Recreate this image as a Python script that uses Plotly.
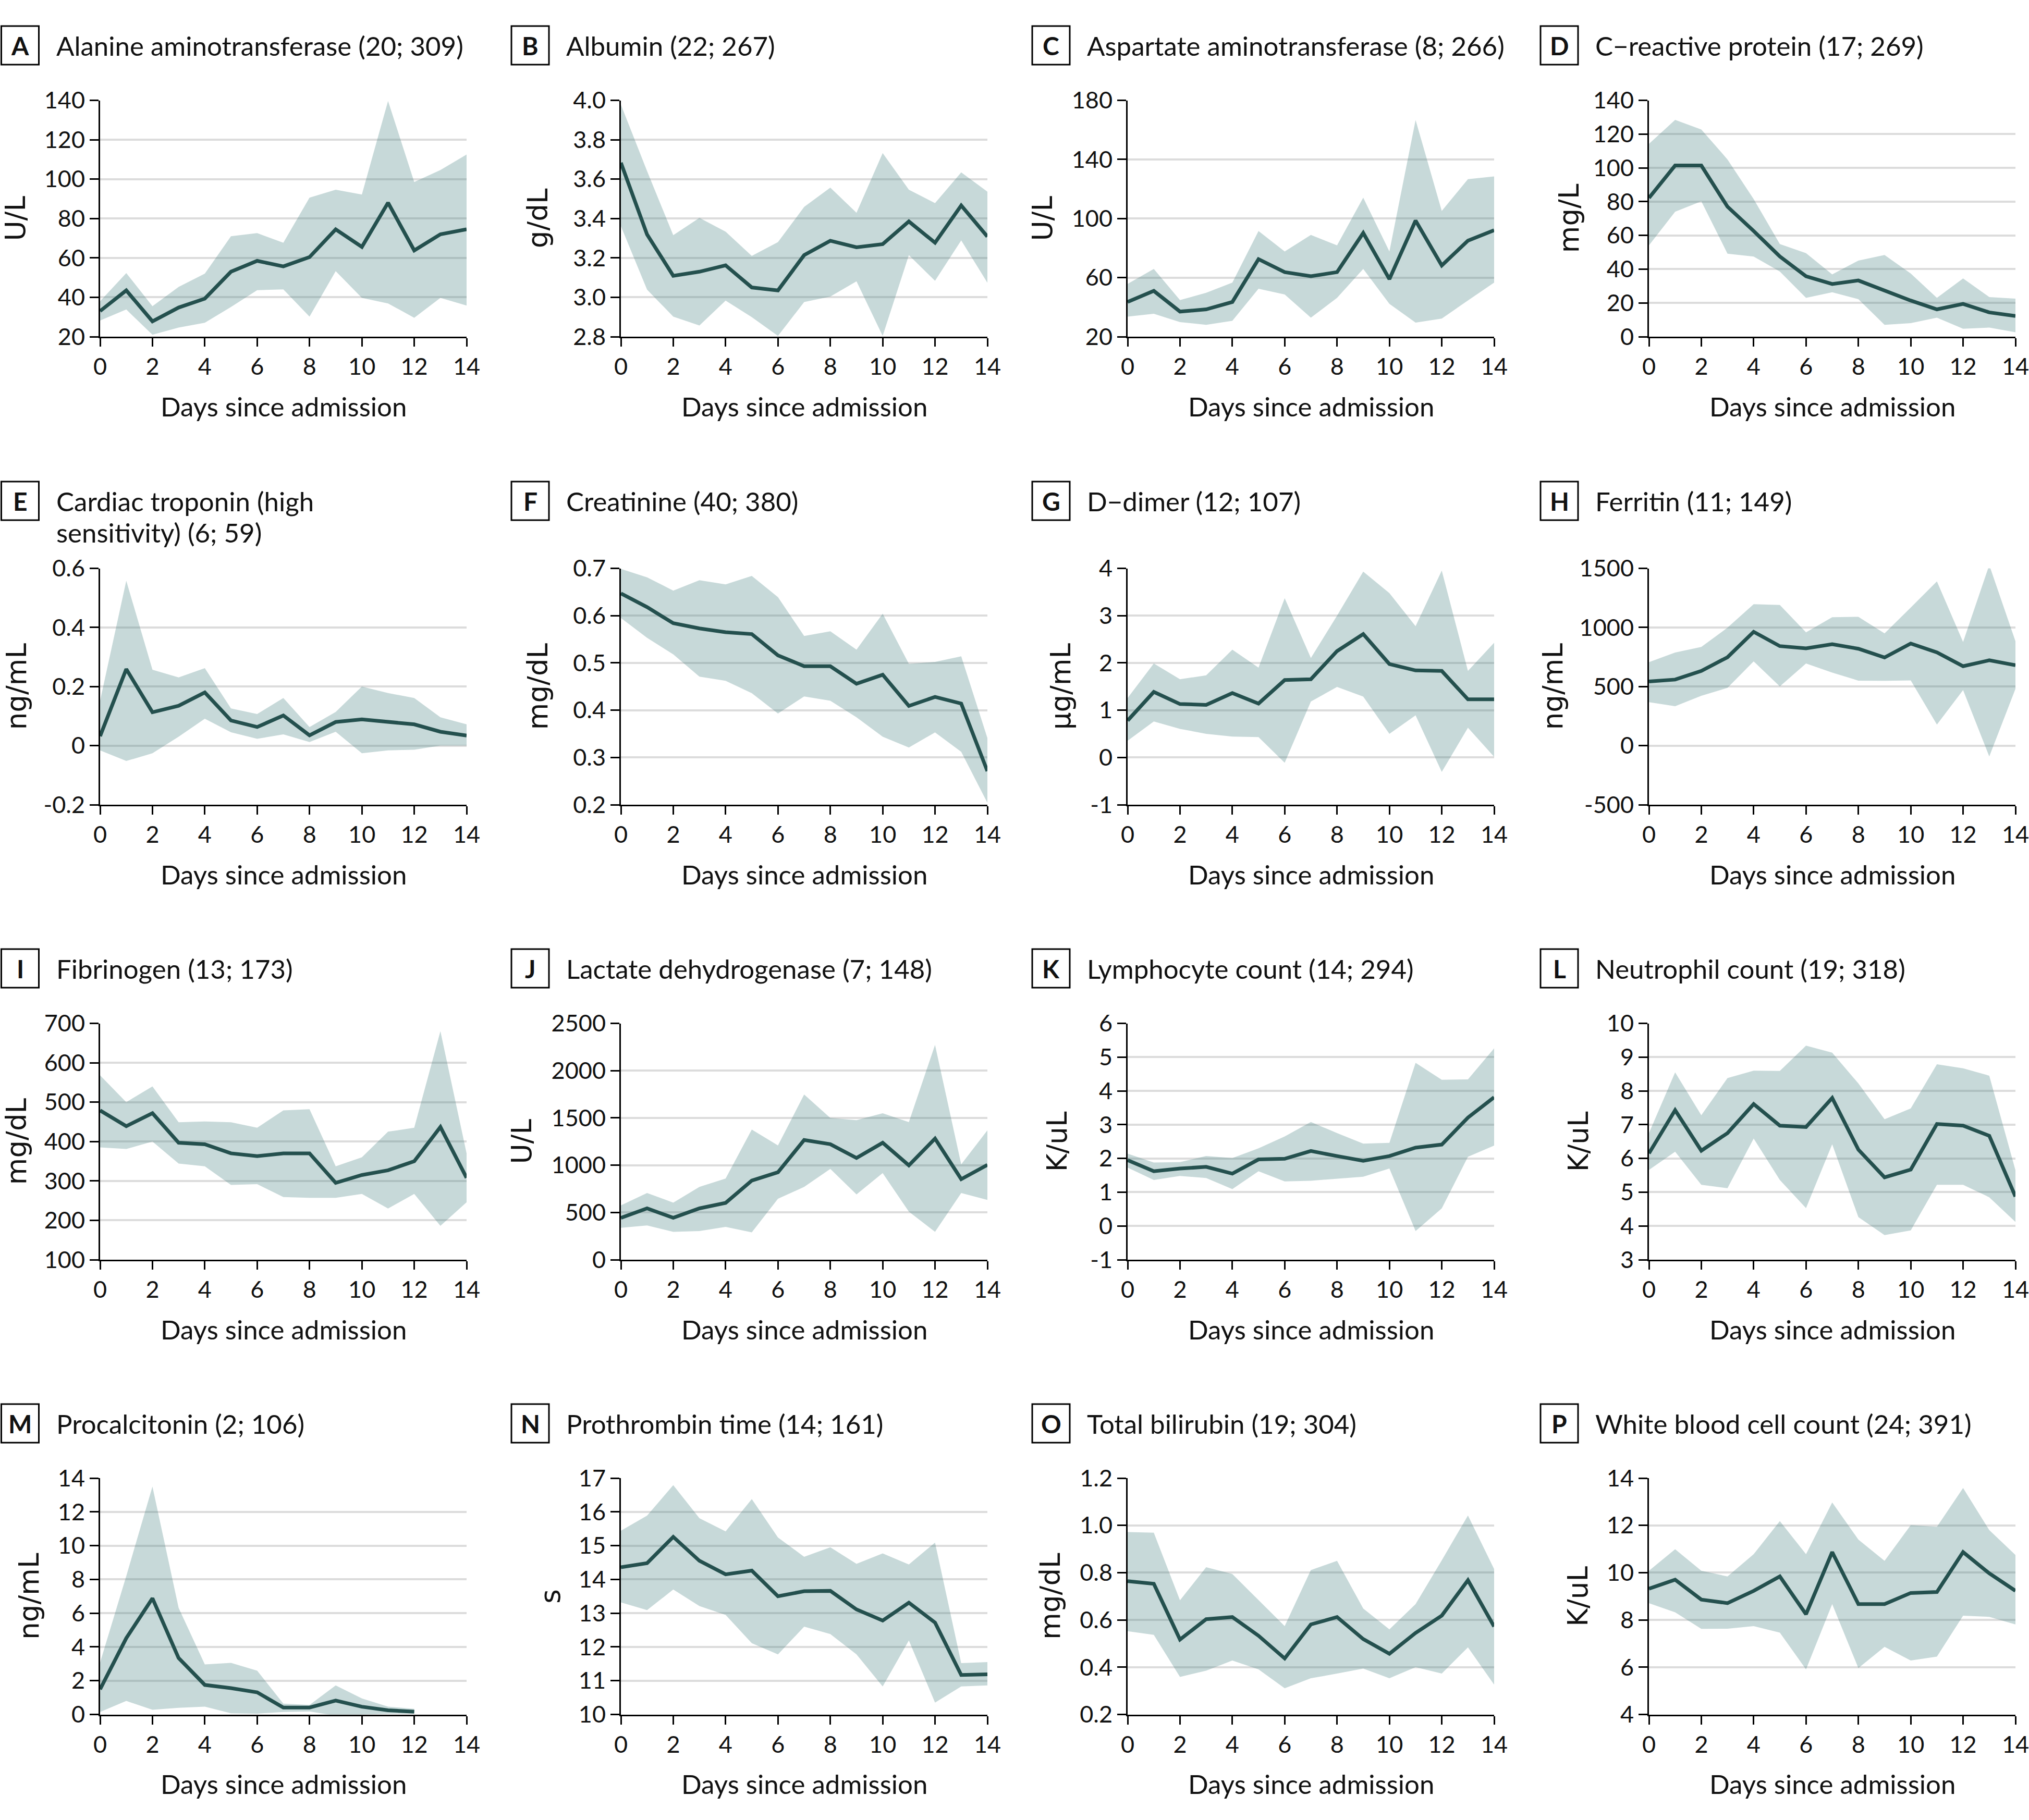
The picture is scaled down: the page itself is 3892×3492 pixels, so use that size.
import plotly.graph_objects as go

W, H = 3892, 3492

# ---------------- data ----------------
days = list(range(15))
days_pct = list(range(13))  # procalcitonin only has days 0-12

alt_mean = [33, 43.5, 27.8, 34.8, 39.3, 53, 58.5, 55.7, 60.4, 74.5, 65.6, 88, 63.8, 72, 74.5]
alt_hi = [38, 52.3, 35.5, 45.3, 52, 71, 72.6, 67.7, 90.6, 94.6, 92.2, 139.7, 98.5, 104.6, 112.5]
alt_lo = [28.2, 33.8, 21, 24.6, 27.1, 35.1, 43.6, 44, 30.2, 53.3, 39.7, 36.9, 29.6, 39.7, 35.8]

alb_mean = [3.683, 3.319, 3.109, 3.130, 3.162, 3.050, 3.035, 3.214, 3.287, 3.254, 3.270, 3.385, 3.277, 3.466, 3.308]
alb_hi = [3.978, 3.641, 3.315, 3.403, 3.333, 3.210, 3.28, 3.459, 3.557, 3.429, 3.732, 3.546, 3.478, 3.634, 3.536]
alb_lo = [3.361, 3.039, 2.902, 2.857, 2.983, 2.899, 2.804, 2.976, 3.004, 3.081, 2.804, 3.214, 3.084, 3.289, 3.074]

ast_mean = [43.5, 51, 37, 38.5, 43.5, 72.5, 63.7, 60.9, 63.7, 90.2, 59, 98.6, 68.2, 85, 92.1]
ast_hi = [55.7, 65.9, 44.8, 49.7, 56.6, 91.5, 77.7, 88.9, 81.8, 114.1, 77.7, 166.7, 105.1, 126.6, 128.5]
ast_lo = [33.6, 35.5, 29.9, 28, 30.8, 52.5, 48.6, 32.9, 46.3, 65.9, 42.2, 29.5, 32.3, 44.5, 56.6]

crp_mean = [82.2, 101.4, 101.4, 77, 62.6, 47.5, 35.8, 31.2, 33.3, 27.1, 21.4, 16.2, 19.4, 14.4, 12.3]
crp_hi = [114.2, 128.4, 122.7, 105, 81.5, 54.9, 49.5, 36.9, 45.1, 48.4, 37.4, 23, 34.5, 23.5, 22.5]
crp_lo = [54.1, 74, 80.2, 49.2, 47.5, 38.6, 23, 26.3, 22.2, 7, 8, 11.3, 4.7, 5.4, 2.6]

trop_mean = [0.032, 0.259, 0.113, 0.135, 0.18, 0.085, 0.063, 0.102, 0.035, 0.08, 0.089, 0.08, 0.072, 0.047, 0.034]
trop_hi = [0.152, 0.558, 0.257, 0.231, 0.262, 0.126, 0.107, 0.161, 0.063, 0.114, 0.2, 0.178, 0.161, 0.096, 0.072]
trop_lo = [-0.016, -0.052, -0.026, 0.030, 0.091, 0.045, 0.023, 0.038, 0.012, 0.047, -0.026, -0.016, -0.014, 0, 0]

crea_mean = [0.647, 0.618, 0.584, 0.573, 0.565, 0.561, 0.516, 0.493, 0.493, 0.456, 0.475, 0.409, 0.428, 0.414, 0.271]
crea_hi = [0.699, 0.681, 0.653, 0.675, 0.666, 0.684, 0.639, 0.557, 0.567, 0.528, 0.604, 0.498, 0.502, 0.514, 0.341]
crea_lo = [0.595, 0.553, 0.518, 0.471, 0.462, 0.436, 0.393, 0.429, 0.42, 0.385, 0.344, 0.321, 0.353, 0.312, 0.204]

ddim_mean = [0.78, 1.386, 1.13, 1.112, 1.362, 1.14, 1.637, 1.655, 2.25, 2.611, 1.975, 1.841, 1.83, 1.229, 1.229]
ddim_hi = [1.258, 1.987, 1.655, 1.736, 2.279, 1.9, 3.37, 2.104, 3.0, 3.93, 3.475, 2.775, 3.953, 1.83, 2.425]
ddim_lo = [0.354, 0.762, 0.605, 0.5, 0.441, 0.43, -0.113, 1.182, 1.491, 1.287, 0.5, 0.89, -0.306, 0.628, 0.015]

ferr_mean = [543, 559, 632, 748, 963, 842, 823, 858, 820, 746, 864, 789, 672, 722, 680]
ferr_hi = [706, 788, 835, 998, 1197, 1190, 959, 1087, 1090, 950, 1168, 1390, 877, 1528, 884]
ferr_lo = [368, 333, 422, 489, 713, 501, 695, 618, 550, 549, 552, 178, 470, -92, 480]

fib_mean = [479, 439, 472, 397, 393, 370, 363, 370, 370, 295, 315, 327, 350, 437, 308]
fib_hi = [568, 500, 540, 449, 451, 449, 435, 479, 482, 337, 360, 425, 435, 680, 370]
fib_lo = [385, 381, 400, 344, 337, 290, 292, 259, 257, 257, 267, 230, 267, 186, 246]

ldh_mean = [443, 543, 443, 543, 601, 837, 925, 1266, 1222, 1076, 1237, 998, 1281, 852, 1003]
ldh_hi = [575, 706, 604, 770, 858, 1377, 1208, 1747, 1499, 1476, 1549, 1456, 2272, 1009, 1368]
ldh_lo = [338, 362, 295, 303, 347, 289, 645, 770, 960, 691, 916, 508, 295, 706, 633]

lym_mean = [1.95, 1.62, 1.70, 1.75, 1.55, 1.97, 1.99, 2.22, 2.07, 1.93, 2.07, 2.32, 2.41, 3.21, 3.81]
lym_hi = [2.14, 1.88, 1.89, 2.07, 2.01, 2.3, 2.65, 3.08, 2.75, 2.44, 2.46, 4.83, 4.33, 4.34, 5.26]
lym_lo = [1.73, 1.36, 1.48, 1.42, 1.09, 1.62, 1.32, 1.34, 1.40, 1.46, 1.70, -0.15, 0.52, 2.05, 2.38]

neu_mean = [6.15, 7.43, 6.23, 6.75, 7.61, 6.97, 6.93, 7.79, 6.26, 5.44, 5.67, 7.02, 6.97, 6.67, 4.87]
neu_hi = [6.75, 8.55, 7.28, 8.38, 8.60, 8.59, 9.34, 9.13, 8.22, 7.16, 7.48, 8.79, 8.67, 8.45, 5.65]
neu_lo = [5.66, 6.20, 5.22, 5.12, 6.59, 5.36, 4.53, 6.42, 4.26, 3.73, 3.87, 5.22, 5.22, 4.85, 4.12]

pct_mean = [1.49, 4.52, 6.88, 3.34, 1.75, 1.56, 1.31, 0.41, 0.41, 0.82, 0.46, 0.25, 0.16]
pct_hi = [3.08, 8.2, 13.5, 6.31, 2.96, 3.06, 2.59, 0.64, 0.56, 1.72, 0.95, 0.46, 0.33]
pct_lo = [0.15, 0.8, 0.28, 0.39, 0.46, 0.07, 0.05, 0.15, 0.18, -0.07, 0.0, 0.05, 0.05]

pt_mean = [14.36, 14.48, 15.26, 14.55, 14.15, 14.26, 13.50, 13.65, 13.66, 13.11, 12.78, 13.31, 12.72, 11.17, 11.19]
pt_hi = [15.44, 15.89, 16.79, 15.81, 15.42, 16.38, 15.24, 14.67, 14.95, 14.46, 14.77, 14.44, 15.09, 11.52, 11.55]
pt_lo = [13.32, 13.09, 13.70, 13.21, 12.95, 12.11, 11.78, 12.60, 12.38, 11.78, 10.83, 12.19, 10.35, 10.83, 10.86]

bili_mean = [0.764, 0.753, 0.517, 0.603, 0.612, 0.533, 0.437, 0.581, 0.612, 0.519, 0.457, 0.545, 0.618, 0.768, 0.572]
bili_hi = [0.972, 0.969, 0.683, 0.823, 0.794, 0.683, 0.574, 0.811, 0.85, 0.648, 0.56, 0.667, 0.852, 1.042, 0.815]
bili_lo = [0.552, 0.537, 0.359, 0.385, 0.428, 0.391, 0.311, 0.353, 0.373, 0.394, 0.353, 0.4, 0.373, 0.484, 0.326]

wbc_mean = [9.32, 9.70, 8.86, 8.71, 9.23, 9.84, 8.24, 10.87, 8.67, 8.67, 9.14, 9.18, 10.87, 9.97, 9.23]
wbc_hi = [10.08, 10.99, 10.08, 9.84, 10.78, 12.18, 10.78, 12.97, 11.40, 10.50, 12.01, 11.94, 13.58, 11.80, 10.75]
wbc_lo = [8.71, 8.32, 7.62, 7.63, 7.74, 7.46, 5.91, 8.67, 5.96, 6.86, 6.28, 6.45, 8.18, 8.13, 7.81]

letters = list("ABCDEFGHIJKLMNOP")
titles = [
    "Alanine aminotransferase (20; 309)", "Albumin (22; 267)",
    "Aspartate aminotransferase (8; 266)", "C\u2212reactive protein (17; 269)",
    "Cardiac troponin (high|sensitivity) (6; 59)", "Creatinine (40; 380)",
    "D\u2212dimer (12; 107)", "Ferritin (11; 149)",
    "Fibrinogen (13; 173)", "Lactate dehydrogenase (7; 148)",
    "Lymphocyte count (14; 294)", "Neutrophil count (19; 318)",
    "Procalcitonin (2; 106)", "Prothrombin time (14; 161)",
    "Total bilirubin (19; 304)", "White blood cell count (24; 391)",
]
units = ["U/L", "g/dL", "U/L", "mg/L", "ng/mL", "mg/dL", "\u00b5g/mL", "ng/mL",
         "mg/dL", "U/L", "K/uL", "K/uL", "ng/mL", "s", "mg/dL", "K/uL"]
y_ticks = [
    ["20", "40", "60", "80", "100", "120", "140"],
    ["2.8", "3.0", "3.2", "3.4", "3.6", "3.8", "4.0"],
    ["20", "60", "100", "140", "180"],
    ["0", "20", "40", "60", "80", "100", "120", "140"],
    ["-0.2", "0", "0.2", "0.4", "0.6"],
    ["0.2", "0.3", "0.4", "0.5", "0.6", "0.7"],
    ["-1", "0", "1", "2", "3", "4"],
    ["-500", "0", "500", "1000", "1500"],
    ["100", "200", "300", "400", "500", "600", "700"],
    ["0", "500", "1000", "1500", "2000", "2500"],
    ["-1", "0", "1", "2", "3", "4", "5", "6"],
    ["3", "4", "5", "6", "7", "8", "9", "10"],
    ["0", "2", "4", "6", "8", "10", "12", "14"],
    ["10", "11", "12", "13", "14", "15", "16", "17"],
    ["0.2", "0.4", "0.6", "0.8", "1.0", "1.2"],
    ["4", "6", "8", "10", "12", "14"],
]
x_ticks = ["0", "2", "4", "6", "8", "10", "12", "14"]
x_label = "Days since admission"

series = [
    (days, alt_mean, alt_lo, alt_hi), (days, alb_mean, alb_lo, alb_hi),
    (days, ast_mean, ast_lo, ast_hi), (days, crp_mean, crp_lo, crp_hi),
    (days, trop_mean, trop_lo, trop_hi), (days, crea_mean, crea_lo, crea_hi),
    (days, ddim_mean, ddim_lo, ddim_hi), (days, ferr_mean, ferr_lo, ferr_hi),
    (days, fib_mean, fib_lo, fib_hi), (days, ldh_mean, ldh_lo, ldh_hi),
    (days, lym_mean, lym_lo, lym_hi), (days, neu_mean, neu_lo, neu_hi),
    (days_pct, pct_mean, pct_lo, pct_hi), (days, pt_mean, pt_lo, pt_hi),
    (days, bili_mean, bili_lo, bili_hi), (days, wbc_mean, wbc_lo, wbc_hi),
]

# ---------------- layout geometry (pixels) ----------------
col_x0 = [192, 1191, 2163, 3163]
plot_w = 703
row_y0 = [192.5, 1090.5, 1963.5, 2836]
plot_h = 453.5
box_left = [2.5, 981, 1980, 2955]
box_cy = [87, 961, 1858, 2731]
box_w, box_h = 72, 74
# distance from the y axis to the centre of each unit label (depends on tick label width)
ytitle_gap = [163, 160, 164, 154, 161, 160, 129, 185,
              161, 191, 136, 136, 136, 135, 148, 136]

LINE_COLOR = "#24504e"
FILL_COLOR = "rgba(70,130,130,0.30)"
GRID_COLOR = "#dcdcdc"
TXT = "#111111"
FONT = "Lato"

def px_x(v):
    return v / W

def px_y(v):
    return 1 - v / H

fig = go.Figure()
annotations = []
shapes = []
layout_axes = {}

for i in range(16):
    r, c = divmod(i, 4)
    sfx = "" if i == 0 else str(i + 1)
    xd, mean, lo, hi = series[i]
    fig.add_trace(go.Scatter(
        x=list(xd) + list(xd)[::-1], y=list(hi) + list(lo)[::-1],
        fill="toself", fillcolor=FILL_COLOR, line=dict(width=0),
        mode="lines", hoverinfo="skip", showlegend=False,
        xaxis="x" + sfx, yaxis="y" + sfx))
    fig.add_trace(go.Scatter(
        x=xd, y=mean, mode="lines",
        line=dict(color=LINE_COLOR, width=7),
        showlegend=False, xaxis="x" + sfx, yaxis="y" + sfx))

    x0 = col_x0[c]
    y0 = row_y0[r]
    tv = [float(t) for t in y_ticks[i]]
    layout_axes["xaxis" + sfx] = dict(
        domain=[px_x(x0), px_x(x0 + plot_w)], anchor="y" + sfx,
        range=[0, 14], tickvals=[float(t) for t in x_ticks], ticktext=x_ticks,
        ticks="outside", ticklen=16, tickwidth=3, tickcolor="black",
        ticklabeloverflow="allow",
        showline=True, linecolor="black", linewidth=3,
        showgrid=False, zeroline=False, automargin=False,
        tickfont=dict(family=FONT, size=45, color=TXT), fixedrange=True)
    layout_axes["yaxis" + sfx] = dict(
        domain=[px_y(y0 + plot_h), px_y(y0)], anchor="x" + sfx,
        range=[tv[0], tv[-1]], tickvals=tv, ticktext=y_ticks[i],
        ticks="outside", ticklen=17, tickwidth=3, tickcolor="black",
        ticklabeloverflow="allow",
        showline=True, linecolor="black", linewidth=3,
        showgrid=True, gridcolor=GRID_COLOR, gridwidth=4, zeroline=False,
        automargin=False,
        tickfont=dict(family=FONT, size=45, color=TXT), fixedrange=True)

    # letter box
    bl = box_left[c]
    cy = box_cy[r]
    shapes.append(dict(type="rect", xref="paper", yref="paper",
                       x0=px_x(bl), x1=px_x(bl + box_w),
                       y0=px_y(cy + box_h / 2), y1=px_y(cy - box_h / 2),
                       line=dict(color="black", width=3), fillcolor="white"))
    annotations.append(dict(text="<b>" + letters[i] + "</b>", x=px_x(bl + box_w / 2), y=px_y(cy),
                            xref="paper", yref="paper", xanchor="center", yanchor="middle",
                            showarrow=False, font=dict(family=FONT, size=48, color=TXT)))
    # panel title (possibly two lines)
    parts = titles[i].split("|")
    for k, part in enumerate(parts):
        annotations.append(dict(text=part, x=px_x(bl + 103), y=px_y(cy + 60 * k),
                                xref="paper", yref="paper", xanchor="left", yanchor="middle",
                                showarrow=False, font=dict(family=FONT, size=51, color=TXT)))
    # y-axis title
    annotations.append(dict(text=units[i], x=px_x(x0 - ytitle_gap[i]), y=px_y(y0 + plot_h / 2),
                            xref="paper", yref="paper", xanchor="center", yanchor="middle",
                            textangle=-90, showarrow=False,
                            font=dict(family="DejaVu Sans", size=53, color=TXT)))
    # x-axis title
    annotations.append(dict(text=x_label, x=px_x(x0 + plot_w / 2), y=px_y(y0 + plot_h + 133),
                            xref="paper", yref="paper", xanchor="center", yanchor="middle",
                            showarrow=False, font=dict(family=FONT, size=51, color=TXT)))

fig.update_layout(
    width=W, height=H, margin=dict(l=0, r=0, t=0, b=0, pad=0, autoexpand=False),
    paper_bgcolor="white", plot_bgcolor="white",
    showlegend=False, annotations=annotations, shapes=shapes,
    **layout_axes)

# remove the default 8px page margin so the figure sits at the window origin
fig.write_html("out.html", config={"displayModeBar": False},
               post_script="document.body.style.margin='0px';")
